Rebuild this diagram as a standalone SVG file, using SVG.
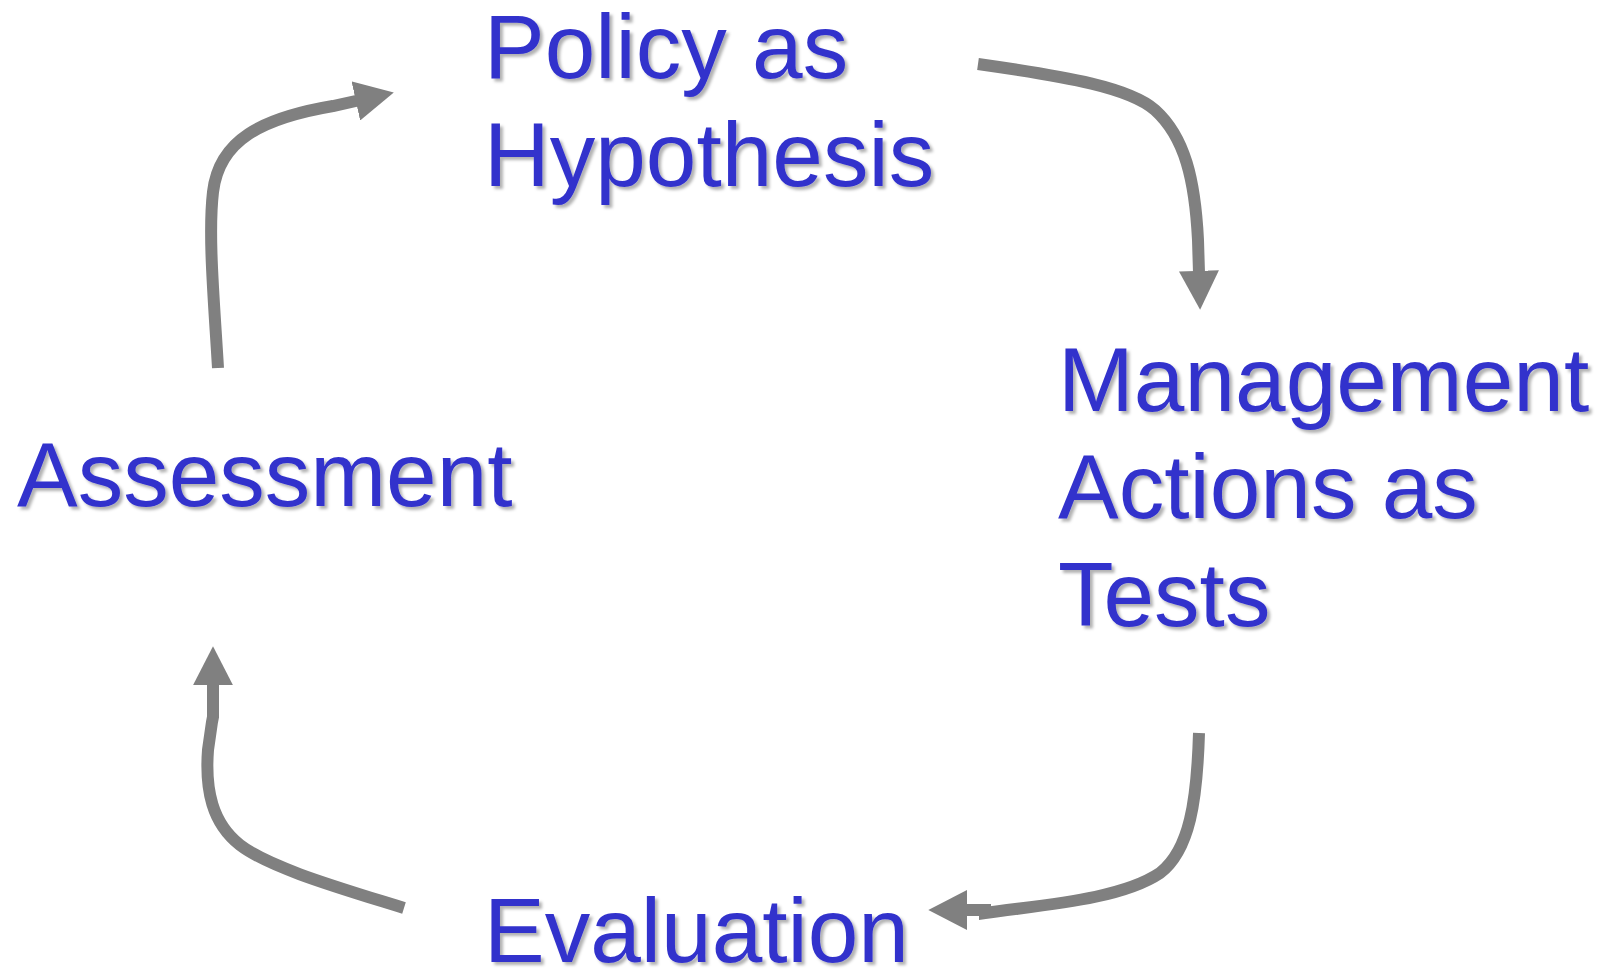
<svg xmlns="http://www.w3.org/2000/svg" width="1610" height="970" viewBox="0 0 1610 970">
<style>
.lbl{font-family:"Liberation Sans",Arial,sans-serif;font-size:91px;fill:#3333CC;filter:url(#sh)}
.arr{fill:none;stroke:#808080;stroke-width:12;marker-end:url(#head)}
</style>
<defs>
<filter id="sh" x="-5%" y="-10%" width="115%" height="130%">
<feDropShadow dx="3" dy="3" stdDeviation="1.5" flood-color="#000" flood-opacity="0.3"/>
</filter>
<marker id="head" markerUnits="userSpaceOnUse" markerWidth="40" markerHeight="40" viewBox="0 0 36 36" refX="2" refY="18" orient="auto">
<path d="M0,0 L35,18 L0,36 Z" fill="#808080"/>
</marker>
</defs>
<rect width="1610" height="970" fill="#fff"/>
<g id="connectors">
<path class="arr" d="M218,368 C214,300 208,235 213,192 C219,140 262,118 333,106 L358,100.5"/>
<path class="arr" d="M978,64 C1070,77 1130,88 1155,110 C1185,137 1195,180 1198,240 L1199,273"/>
<path class="arr" d="M1199,733 C1197,800 1190,850 1160,873 C1120,900 1040,905 985,913 L985,910 L965,910"/>
<path class="arr" d="M404,908 C340,888 270,868 240,845 C212,823 205,790 208,750 L212,722 L213,717 L213,683"/>
</g>
<g id="policy">
<text class="lbl" x="484" y="78">Policy as</text>
<text class="lbl" x="484" y="186">Hypothesis</text>
</g>
<g id="management">
<text class="lbl" x="1058" y="411">Management</text>
<text class="lbl" x="1058" y="518">Actions as</text>
<text class="lbl" x="1058" y="626">Tests</text>
</g>
<g id="assessment">
<text class="lbl" x="17" y="506">Assessment</text>
</g>
<g id="evaluation">
<text class="lbl" x="484" y="962">Evaluation</text>
</g>
</svg>
